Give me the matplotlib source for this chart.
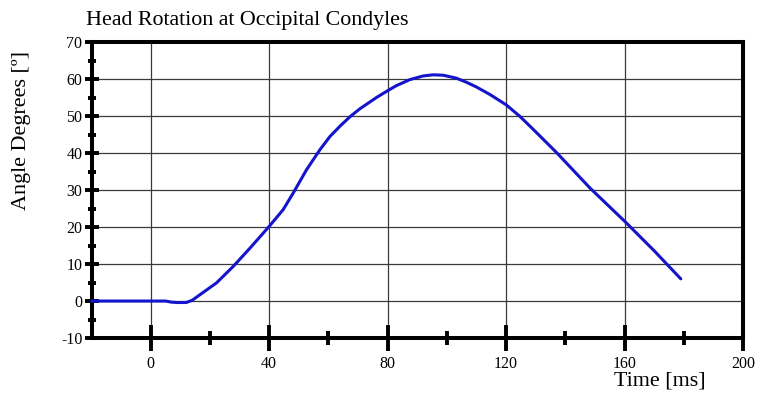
import matplotlib
matplotlib.use("Agg")
import matplotlib.pyplot as plt
from matplotlib.ticker import FixedLocator

# ---- data ----
time_ms = [-20, 0, 5, 7, 9, 12, 14, 16.6, 22.2, 27.9, 33.5, 40, 44.7, 48.1, 52.6,
           57.1, 60.5, 63.9, 67.2, 70.6, 76.3, 80, 83, 87.5, 92, 95.4, 98.7, 103.2,
           106.6, 110, 114.5, 120, 124.6, 129.1, 137, 148.3, 160.4, 170, 179]
angle_deg = [0, 0, 0, -0.3, -0.4, -0.4, 0.2, 1.7, 4.9, 9.4, 14.3, 20.2, 24.7, 29.2, 35.5,
             40.9, 44.5, 47.3, 49.8, 52.0, 55.1, 56.9, 58.3, 59.9, 60.9, 61.2, 61.1, 60.3,
             59.2, 57.9, 55.9, 53.1, 50.0, 46.5, 40.2, 30.6, 21.3, 13.6, 6.0]
x_major = [0, 40, 80, 120, 160, 200]
x_minor = [20, 60, 100, 140, 180]
y_major = [-10, 0, 10, 20, 30, 40, 50, 60, 70]
y_minor = [-5, 5, 15, 25, 35, 45, 55, 65]

title = "Head Rotation at Occipital Condyles"
ylabel = "Angle Degrees [º]"
xlabel = "Time [ms]"

plt.rcParams['font.family'] = ['Liberation Serif', 'DejaVu Serif']
plt.rcParams['axes.unicode_minus'] = False

W, H = 757, 394
fig = plt.figure(figsize=(W / 100, H / 100), dpi=100)
ax = fig.add_axes([91.5 / W, 1 - 338 / H, (743 - 91.5) / W, (338 - 42.3) / H])

ax.plot(time_ms, angle_deg, color='#1414cc', lw=2.2, solid_capstyle='round',
        solid_joinstyle='round', zorder=3, clip_on=False)

ax.set_xlim(-20, 200)
ax.set_ylim(-10, 70)

ax.xaxis.set_major_locator(FixedLocator(x_major))
ax.xaxis.set_minor_locator(FixedLocator(x_minor))
ax.yaxis.set_major_locator(FixedLocator(y_major))
ax.yaxis.set_minor_locator(FixedLocator(y_minor))

ax.grid(True, which='major', color='#3a3a3a', lw=0.9, zorder=1)

for s in ax.spines.values():
    s.set_linewidth(2.9)
    s.set_color('black')

ax.tick_params(axis='x', which='major', direction='inout', length=19, width=2.8,
               labelsize=11.5, pad=3.5)
ax.tick_params(axis='x', which='minor', direction='inout', length=9.5, width=2.8)
ax.tick_params(axis='y', which='major', direction='inout', length=10, width=2.8,
               labelsize=11.5, pad=1.5)
ax.tick_params(axis='y', which='minor', direction='inout', length=6, width=2.8)

fig.text(86 / W, 1 - 20 / H, title, fontsize=15.8, ha='left', va='center')
fig.text(22 / W, 1 - 131 / H, ylabel, fontsize=15.9, rotation=90, ha='center', va='center')
fig.text(660 / W, 1 - 381 / H, xlabel, fontsize=15.8, ha='center', va='center')

fig.savefig('out.png', dpi=100)
